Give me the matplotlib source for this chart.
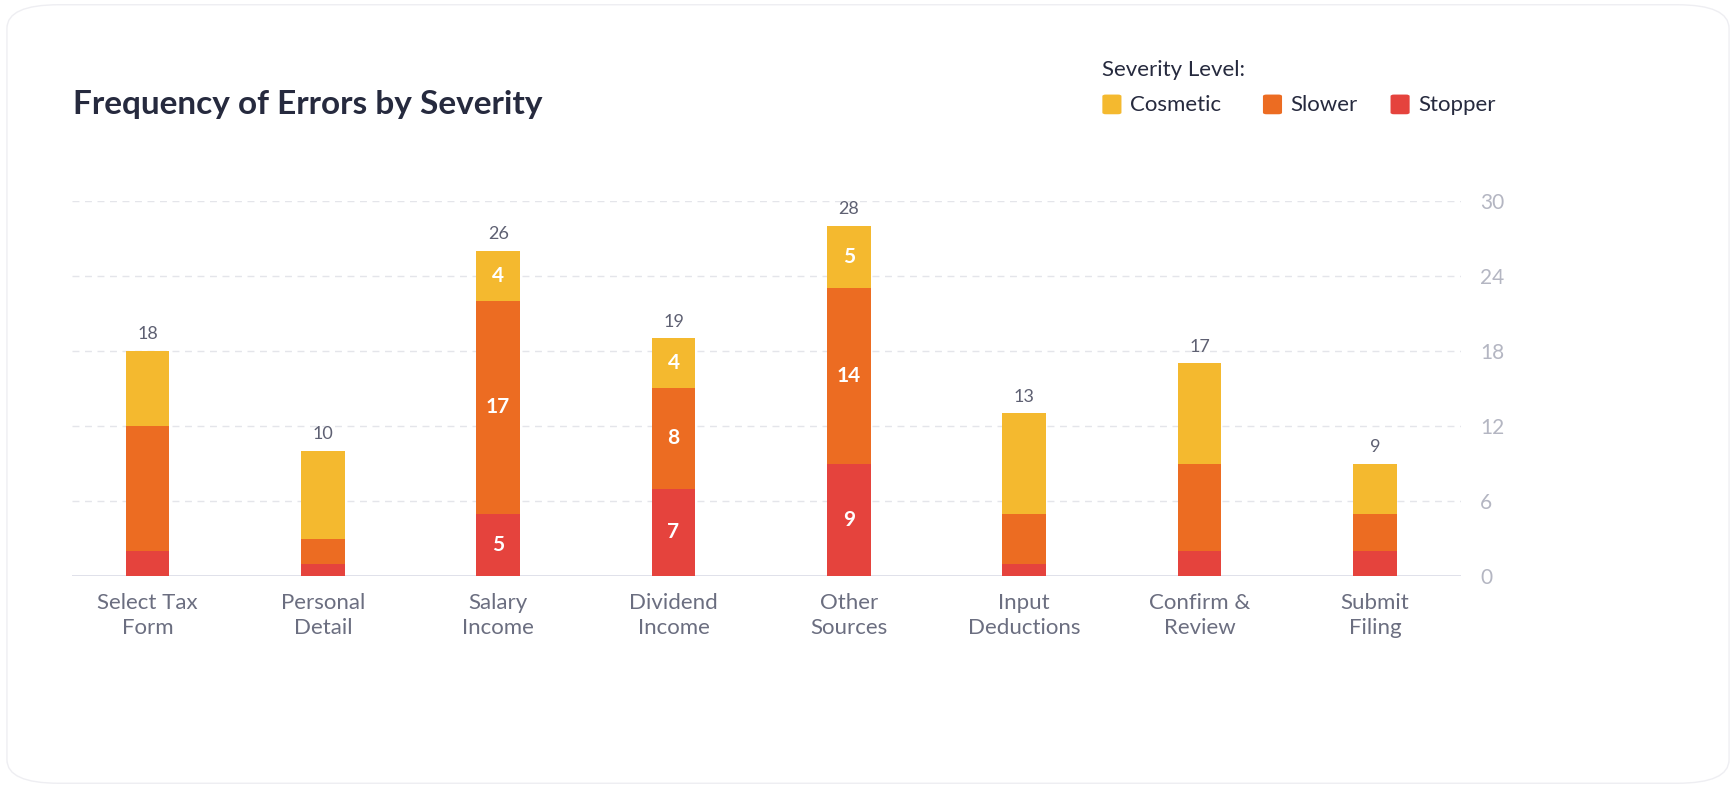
import matplotlib.pyplot as plt
import numpy as np
from matplotlib.patches import FancyBboxPatch

plt.rcParams['font.family'] = ['Lato', 'DejaVu Sans']

categories = ["Select Tax\nForm", "Personal\nDetail", "Salary\nIncome", "Dividend\nIncome",
              "Other\nSources", "Input\nDeductions", "Confirm &\nReview", "Submit\nFiling"]
stopper = [2, 1, 5, 7, 9, 1, 2, 2]
slower = [10, 2, 17, 8, 14, 4, 7, 3]
cosmetic = [6, 7, 4, 4, 5, 8, 8, 4]
labelled = [False, False, True, True, True, False, False, False]
yticks = [0, 6, 12, 18, 24, 30]

c_cos, c_slow, c_stop = "#F4B92F", "#EC6C22", "#E5433D"

fig = plt.figure(figsize=(17.36, 7.88), dpi=100)
fig.patch.set_facecolor("white")
card = FancyBboxPatch((0.004, 0.006), 0.992, 0.988, boxstyle="round,pad=0,rounding_size=0.03",
                      transform=fig.transFigure, facecolor="none", edgecolor="#EEEEF2", lw=1, zorder=-5)
fig.patches.append(card)

ax = fig.add_axes([0.0415, 0.269, 0.8, 0.476])
ax.set_facecolor("none")
x = np.arange(len(categories))
w = 0.25
stop = np.array(stopper); slow = np.array(slower); cos = np.array(cosmetic)
ax.bar(x, stop, w, color=c_stop, zorder=3)
ax.bar(x, slow, w, bottom=stop, color=c_slow, zorder=3)
ax.bar(x, cos, w, bottom=stop + slow, color=c_cos, zorder=3)

totals = stop + slow + cos
for i in range(len(x)):
    ax.text(x[i], totals[i] + 0.7, str(totals[i]), ha="center", va="bottom", fontsize=13, color="#5E6072")
    if labelled[i]:
        for b, v in [(0, stop[i]), (stop[i], slow[i]), (stop[i] + slow[i], cos[i])]:
            ax.text(x[i], b + v / 2, str(v), ha="center", va="center", fontsize=15,
                    color="white", fontweight="bold")

ax.set_xlim(-0.43, 7.49)
ax.set_ylim(0, 30)
ax.yaxis.tick_right()
ax.set_yticks(yticks)
ax.tick_params(axis="y", length=0, pad=14, labelsize=15, labelcolor="#B4B6C2")
ax.set_xticks(x)
ax.set_xticklabels(categories, fontsize=16, color="#6B6E80", linespacing=1.35)
ax.tick_params(axis="x", length=0, pad=12)
for yv in yticks[1:]:
    ax.axhline(yv, color="#E4E5EA", lw=1, ls=(0, (5, 4)), zorder=1)
ax.axhline(0, color="#DADBE6", lw=1.2, zorder=2)
for s in ax.spines.values():
    s.set_visible(False)

fig.text(0.042, 0.855, "Frequency of Errors by Severity", fontsize=24, fontweight="bold", color="#262A3E")
fig.text(0.635, 0.903, "Severity Level:", fontsize=16, color="#262A3E")
items = [("Cosmetic", c_cos, 0.635), ("Slower", c_slow, 0.7275), ("Stopper", c_stop, 0.801)]
for name, col, xp in items:
    fig.patches.append(FancyBboxPatch((xp, 0.855), 0.011, 0.025, boxstyle="round,pad=0,rounding_size=0.002",
                                      transform=fig.transFigure, facecolor=col, edgecolor="none"))
    fig.text(xp + 0.016, 0.867, name, fontsize=16, color="#262A3E", va="center")

fig.savefig("out.png", dpi=100)
